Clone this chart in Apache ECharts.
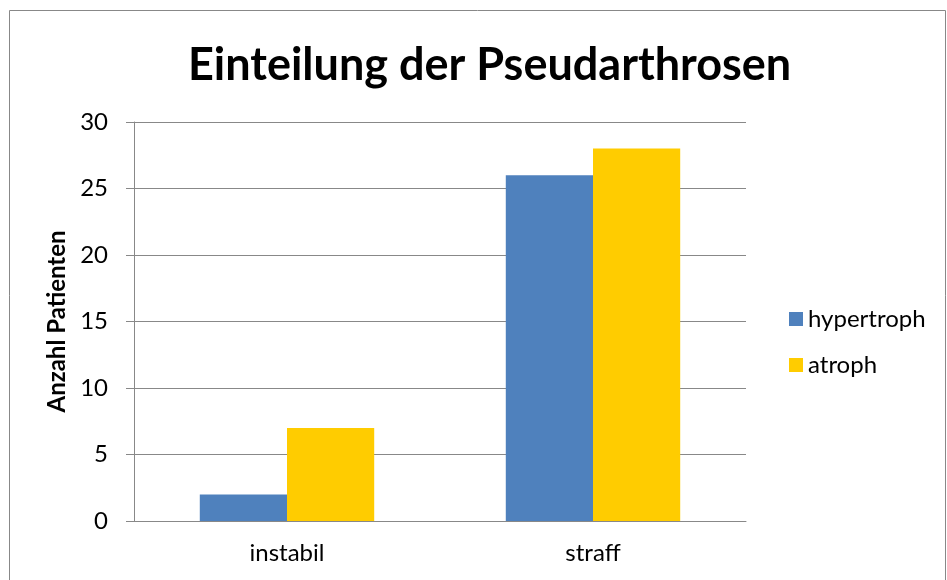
<!DOCTYPE html>
<html>
<head>
<meta charset="utf-8">
<script src="https://cdn.jsdelivr.net/npm/echarts@6/dist/echarts.min.js"></script>
<style>
  html, body { margin: 0; padding: 0; background: #fff; }
  #chart { width: 947px; height: 580px; }
</style>
</head>
<body>
<div id="chart"></div>
<script>
  const categories = ['instabil', 'straff'];
  const hypertroph = [2, 26];
  const atroph = [7, 28];
  const seriesNames = ['hypertroph', 'atroph'];

  const chart = echarts.init(document.getElementById('chart'));
  const font = 'Lato, "Open Sans", sans-serif';

  const option = {
    backgroundColor: '#fff',
    textStyle: { fontFamily: font, color: '#000' },
    graphic: [
      {
        type: 'rect',
        shape: { x: 9.5, y: 10.5, width: 936, height: 600 },
        style: { fill: 'none', stroke: '#888', lineWidth: 1 },
        silent: true
      }
    ],
    title: {
      text: 'Einteilung der Pseudarthrosen',
      left: 183,
      top: 38,
      textStyle: { fontFamily: font, fontSize: 45, fontWeight: 'bold', color: '#000' }
    },
    legend: {
      orient: 'vertical',
      left: 784,
      top: 302,
      itemWidth: 14,
      itemHeight: 14,
      itemGap: 22,
      icon: 'rect',
      data: seriesNames,
      textStyle: { fontFamily: font, fontSize: 24, color: '#000' }
    },
    grid: { left: 134, right: 201, top: 122, bottom: 59 },
    xAxis: {
      type: 'category',
      data: categories,
      axisLine: { lineStyle: { color: '#888', width: 1 } },
      axisTick: { show: false },
      axisLabel: { fontFamily: font, fontSize: 24, color: '#000', margin: 20 }
    },
    yAxis: {
      type: 'value',
      min: 0,
      max: 30,
      interval: 5,
      name: 'Anzahl Patienten',
      nameLocation: 'middle',
      nameGap: 60,
      nameTextStyle: { fontFamily: font, fontSize: 24, fontWeight: 'bold', color: '#000' },
      axisLine: { show: true, lineStyle: { color: '#888', width: 1 } },
      axisTick: { show: true, inside: false, length: 8, lineStyle: { color: '#888' } },
      axisLabel: { fontFamily: font, fontSize: 24, color: '#000', margin: 26 },
      splitLine: { lineStyle: { color: '#888', width: 1 } }
    },
    series: [
      {
        name: seriesNames[0],
        type: 'bar',
        data: hypertroph,
        barGap: '0%',
        barCategoryGap: '43%',
        itemStyle: { color: '#4F81BD' }
      },
      {
        name: seriesNames[1],
        type: 'bar',
        data: atroph,
        barGap: '0%',
        barCategoryGap: '43%',
        itemStyle: { color: '#FFCC00' }
      }
    ]
  };

  chart.setOption(option);
</script>
</body>
</html>
